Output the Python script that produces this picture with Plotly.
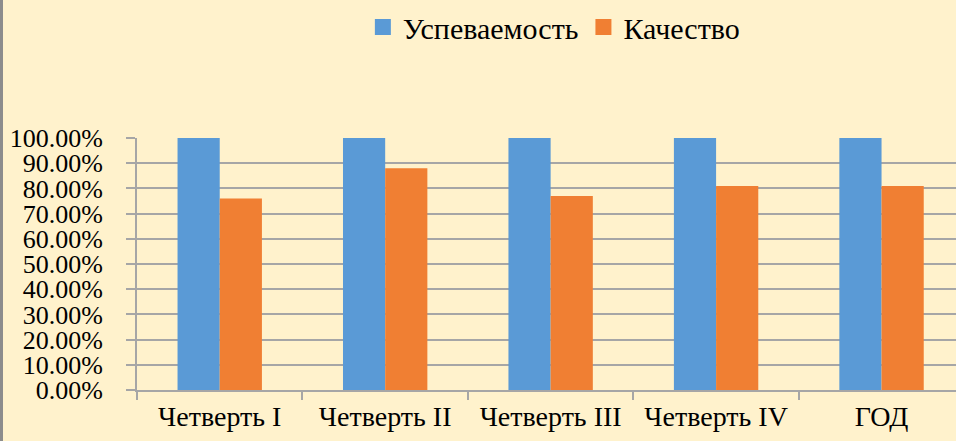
import plotly.graph_objects as go

categories = ["Четверть I", "Четверть II", "Четверть III", "Четверть IV", "ГОД"]
uspevaemost = [1.00, 1.00, 1.00, 1.00, 1.00]
kachestvo = [0.76, 0.88, 0.77, 0.81, 0.81]
tick_vals = [0, 0.1, 0.2, 0.3, 0.4, 0.5, 0.6, 0.7, 0.8, 0.9, 1.0]
tick_text = ["0.00%", "10.00%", "20.00%", "30.00%", "40.00%", "50.00%",
             "60.00%", "70.00%", "80.00%", "90.00%", "100.00%"]
series_names = ["Успеваемость", "Качество"]
series_colors = ["#5A9AD6", "#F07F33"]

BG = "#FFF2CC"
FONT = "'Liberation Serif', 'Times New Roman', 'DejaVu Serif', serif"

fig = go.Figure()
for name, vals, col in zip(series_names, [uspevaemost, kachestvo], series_colors):
    fig.add_trace(go.Bar(name=name, x=categories, y=vals, showlegend=False,
                         legendgroup=name,
                         marker=dict(color=col, line=dict(width=0))))
for name, col in zip(series_names, series_colors):
    fig.add_trace(go.Scatter(name=name, x=[None], y=[None], mode="markers",
                             legendgroup=name,
                             marker=dict(symbol="square", size=17, color=col)))

fig.update_layout(
    width=956, height=441,
    paper_bgcolor=BG, plot_bgcolor=BG,
    margin=dict(l=137, r=0, t=138, b=51),
    barmode="group", bargap=0.49, bargroupgap=0,
    font=dict(family=FONT, size=26, color="black"),
    legend=dict(orientation="h", x=0.509, xanchor="center", y=1.44, yanchor="middle",
                font=dict(family=FONT, size=30, color="black"),
                bgcolor="rgba(0,0,0,0)", itemwidth=30, tracegroupgap=0),
    showlegend=True,
    shapes=[dict(type="line", xref="paper", yref="paper",
                 xsizemode="pixel", xanchor=0, x0=-135.5, x1=-135.5,
                 ysizemode="pixel", yanchor=0, y0=-60, y1=400,
                 line=dict(color="#8C8C8C", width=3))],
)
fig.update_xaxes(range=[-0.5, 4.45], showgrid=False, showline=True,
                 linecolor="#A6A6A6", linewidth=2, ticks="outside",
                 tickson="boundaries", ticklen=8, tickcolor="#A6A6A6", tickwidth=2,
                 tickfont=dict(family=FONT, size=28, color="black"))
fig.update_yaxes(range=[0, 1.0], tickvals=tick_vals, ticktext=tick_text,
                 showgrid=True, gridcolor="#A6A6A6", gridwidth=2,
                 showline=True, linecolor="#A6A6A6", linewidth=2,
                 ticks="outside", ticklen=9, tickcolor="#A6A6A6", tickwidth=2,
                 zeroline=False, ticklabelstandoff=18,
                 tickfont=dict(family=FONT, size=26, color="black"))

fig.write_html("out.html", config={"displayModeBar": False},
               post_script="document.body.style.margin='0px';document.body.style.overflow='hidden';")
